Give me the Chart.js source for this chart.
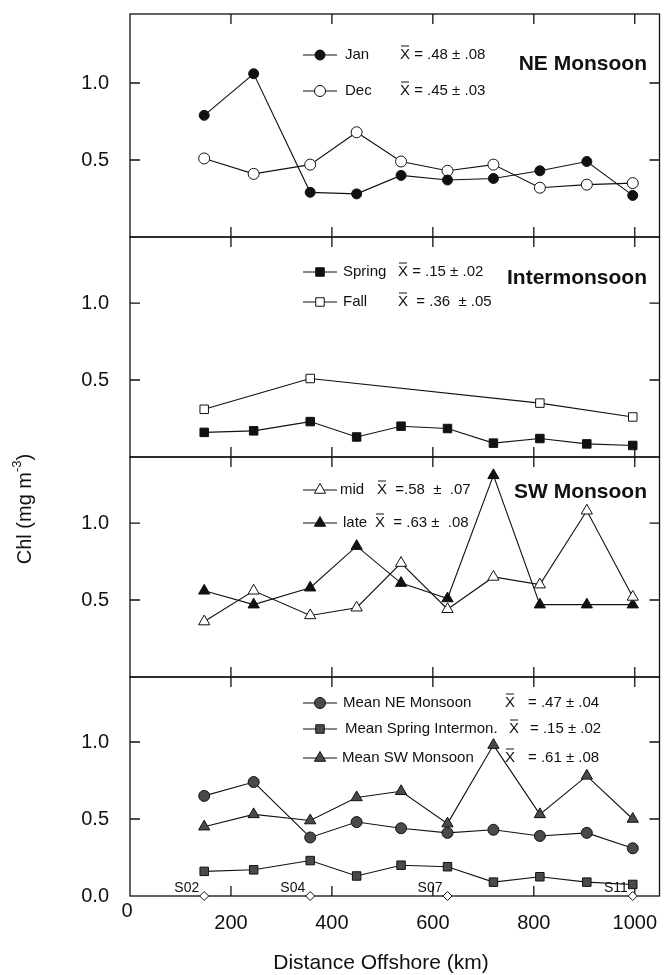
<!DOCTYPE html>
<html>
<head>
<meta charset="utf-8">
<title>Chl vs distance offshore</title>
<script src="https://cdn.jsdelivr.net/npm/chart.js@4.4.1/dist/chart.umd.min.js"></script>
<style>
  html, body { margin: 0; padding: 0; background: #fff; }
  #chl-chart { display: block; }
</style>
</head>
<body>
<canvas id="chl-chart" width="667" height="975"></canvas>
<script>
// distance offshore of the sampled stations (km)
const distances = [147, 245, 357, 449, 537, 629, 720, 812, 905, 996];

// NE monsoon
const janChl = [0.79, 1.06, 0.29, 0.28, 0.40, 0.37, 0.38, 0.43, 0.49, 0.27];
const decChl = [0.51, 0.41, 0.47, 0.68, 0.49, 0.43, 0.47, 0.32, 0.34, 0.35];

// intermonsoon (fall only had 4 stations)
const springChl = [0.16, 0.17, 0.23, 0.13, 0.20, 0.185, 0.09, 0.12, 0.085, 0.075];
const fallDistances = [147, 357, 812, 996];
const fallChl = [0.31, 0.51, 0.35, 0.26];

// SW monsoon
const midChl = [0.36, 0.56, 0.40, 0.45, 0.74, 0.44, 0.65, 0.60, 1.08, 0.52];
const lateChl = [0.56, 0.47, 0.58, 0.85, 0.61, 0.51, 1.31, 0.47, 0.47, 0.47];

// seasonal means
const meanNE = [0.65, 0.74, 0.38, 0.48, 0.44, 0.41, 0.43, 0.39, 0.41, 0.31];
const meanSpring = [0.16, 0.17, 0.23, 0.13, 0.20, 0.19, 0.09, 0.125, 0.09, 0.075];
const meanSW = [0.45, 0.53, 0.49, 0.64, 0.68, 0.47, 0.98, 0.53, 0.78, 0.50];

// station markers on the bottom axis
const stationNames = ['S02', 'S04', 'S07', 'S11'];
const stationDistances = [147, 357, 629, 996];

const xTickValues = [200, 400, 600, 800, 1000];
const yTickValues = [0.5, 1.0];

const INK = '#111';
const GREY = '#4a4a4a';
const FONT = "'Liberation Sans', Arial, Helvetica, sans-serif";

const pts = (xs, ys) => xs.map((x, i) => ({ x: x, y: ys[i] }));

function series(yAxisID, xs, ys, style, fill, radius) {
    return {
        yAxisID: yAxisID,
        data: pts(xs, ys),
        borderColor: INK,
        borderWidth: 1.1,
        pointStyle: style,
        pointRadius: radius,
        pointBackgroundColor: fill,
        pointBorderColor: INK,
        pointBorderWidth: 1,
        tension: 0,
        clip: false,
    };
}

const datasets = [
    series('yNE', distances, janChl, 'circle', INK, 5),
    series('yNE', distances, decChl, 'circle', '#fff', 5.5),
    series('yInter', distances, springChl, 'rect', INK, 6),
    series('yInter', fallDistances, fallChl, 'rect', '#fff', 6),
    series('ySW', distances, midChl, 'triangle', '#fff', 6.5),
    series('ySW', distances, lateChl, 'triangle', INK, 6.5),
    series('yMean', distances, meanNE, 'circle', GREY, 5.5),
    series('yMean', distances, meanSpring, 'rect', GREY, 6),
    series('yMean', distances, meanSW, 'triangle', GREY, 6.5),
    Object.assign(series('yMean', stationDistances, stationNames.map(() => 0), 'rectRot', '#fff', 4.5), { showLine: false }),
];

function panelAxis(weight, max, withZero) {
    return {
        type: 'linear',
        position: 'left',
        stack: 'chl',
        stackWeight: weight,
        min: 0,
        max: max,
        grid: { display: false },
        border: { display: false },
        ticks: {
            padding: 13,
            color: INK,
            font: { family: FONT, size: 20 },
            callback: (v) => v.toFixed(1),
        },
        afterBuildTicks: (s) => {
            const vals = withZero ? [0].concat(yTickValues) : yTickValues;
            s.ticks = vals.map(v => ({ value: v }));
        },
        afterFit: (s) => {
            s.width = 130;
            s.paddingTop = 0;
            s.paddingBottom = 0;
        },
    };
}

const panelIds = ['yNE', 'yInter', 'ySW', 'yMean'];

// legend rows: marker + name + mean value, placed per panel
const legendRows = [
    { y: 55, style: 'circle', fill: INK, r: 5, name: 'Jan', nameX: 345, barX: 400, stat: ' = .48 ± .08' },
    { y: 91, style: 'circle', fill: '#fff', r: 5.5, name: 'Dec', nameX: 345, barX: 400, stat: ' = .45 ± .03' },
    { y: 272, style: 'rect', fill: INK, r: 6, name: 'Spring', nameX: 343, barX: 398, stat: ' = .15 ± .02' },
    { y: 302, style: 'rect', fill: '#fff', r: 6, name: 'Fall', nameX: 343, barX: 398, stat: '  = .36  ± .05' },
    { y: 490, style: 'triangle', fill: '#fff', r: 6.5, name: 'mid', nameX: 340, barX: 377, stat: '  =.58  ±  .07' },
    { y: 523, style: 'triangle', fill: INK, r: 6.5, name: 'late', nameX: 343, barX: 375, stat: '  = .63 ±  .08' },
    { y: 703, style: 'circle', fill: GREY, r: 5.5, name: 'Mean NE Monsoon', nameX: 343, barX: 505, statX: 528, stat: '= .47 ± .04' },
    { y: 729, style: 'rect', fill: GREY, r: 6, name: 'Mean Spring Intermon.', nameX: 345, barX: 509, statX: 530, stat: '= .15 ± .02' },
    { y: 758, style: 'triangle', fill: GREY, r: 6.5, name: 'Mean SW Monsoon', nameX: 342, barX: 505, statX: 528, stat: '= .61 ± .08' },
];

const panelTitles = [
    { text: 'NE Monsoon', y: 64 },
    { text: 'Intermonsoon', y: 278 },
    { text: 'SW Monsoon', y: 492 },
];

function drawMarker(ctx, style, x, y, r, fill) {
    ctx.beginPath();
    if (style === 'circle') {
        ctx.arc(x, y, r, 0, Math.PI * 2);
    } else if (style === 'rect') {
        const h = r * Math.SQRT1_2;
        ctx.rect(x - h, y - h, 2 * h, 2 * h);
    } else {
        ctx.moveTo(x, y - r);
        ctx.lineTo(x + r * 0.866, y + r * 0.5);
        ctx.lineTo(x - r * 0.866, y + r * 0.5);
        ctx.closePath();
    }
    ctx.fillStyle = fill;
    ctx.fill();
    ctx.stroke();
}

const TICK = 10;

const panelFrame = {
    id: 'panelFrame',
    beforeDatasetsDraw(chart) {
        const { ctx, chartArea, scales } = chart;
        const xs = scales.x;
        ctx.save();
        ctx.strokeStyle = INK;
        ctx.lineWidth = 1.3;
        panelIds.forEach(id => {
            const s = scales[id];
            ctx.strokeRect(chartArea.left, s.top, chartArea.right - chartArea.left, s.bottom - s.top);
            ctx.beginPath();
            xTickValues.forEach(v => {
                const px = xs.getPixelForValue(v);
                ctx.moveTo(px, s.top);
                ctx.lineTo(px, s.top + TICK);
                ctx.moveTo(px, s.bottom);
                ctx.lineTo(px, s.bottom - TICK);
            });
            yTickValues.forEach(v => {
                const py = s.getPixelForValue(v);
                ctx.moveTo(chartArea.left, py);
                ctx.lineTo(chartArea.left + TICK, py);
                ctx.moveTo(chartArea.right, py);
                ctx.lineTo(chartArea.right - TICK, py);
            });
            ctx.stroke();
        });
        ctx.restore();
    },
    afterDraw(chart) {
        const { ctx, chartArea, scales } = chart;
        ctx.save();
        ctx.fillStyle = INK;
        ctx.strokeStyle = INK;
        ctx.textBaseline = 'middle';

        // legends
        legendRows.forEach(row => {
            ctx.lineWidth = 1;
            ctx.beginPath();
            ctx.moveTo(303, row.y);
            ctx.lineTo(337, row.y);
            ctx.stroke();
            drawMarker(ctx, row.style, 320, row.y, row.r, row.fill);
            ctx.fillStyle = INK;
            ctx.font = `15px ${FONT}`;
            ctx.textAlign = 'left';
            ctx.fillText(row.name, row.nameX, row.y);
            ctx.fillText('X', row.barX, row.y);
            const xw = ctx.measureText('X').width;
            ctx.beginPath();
            ctx.moveTo(row.barX + 1, row.y - 9);
            ctx.lineTo(row.barX + xw - 1, row.y - 9);
            ctx.stroke();
            ctx.fillText(row.stat, row.statX || row.barX + xw, row.y);
        });

        // panel titles
        ctx.font = `bold 21px ${FONT}`;
        ctx.textAlign = 'right';
        panelTitles.forEach(t => ctx.fillText(t.text, 647, t.y));

        // station labels
        ctx.font = `14px ${FONT}`;
        stationNames.forEach((name, i) => {
            ctx.fillText(name, scales.x.getPixelForValue(stationDistances[i]) - 5, scales.yMean.bottom - 8);
        });

        // lone zero of the distance axis
        ctx.font = `20px ${FONT}`;
        ctx.textAlign = 'center';
        ctx.fillText('0', chartArea.left - 3, 911);

        // axis titles
        ctx.font = `21px ${FONT}`;
        ctx.fillText('Distance Offshore (km)', 381, 963);

        ctx.translate(25, 509);
        ctx.rotate(-Math.PI / 2);
        const main = 'Chl (mg m', sup = '-3', tail = ')';
        ctx.font = `20px ${FONT}`;
        const w1 = ctx.measureText(main).width;
        const w3 = ctx.measureText(tail).width;
        ctx.font = `13px ${FONT}`;
        const w2 = ctx.measureText(sup).width;
        let start = -(w1 + w2 + w3) / 2;
        ctx.textAlign = 'left';
        ctx.font = `20px ${FONT}`;
        ctx.fillText(main, start, 0);
        ctx.font = `13px ${FONT}`;
        ctx.fillText(sup, start + w1, -8);
        ctx.font = `20px ${FONT}`;
        ctx.fillText(tail, start + w1 + w2, 0);
        ctx.restore();
    },
};

// stacked axes are laid out bottom-up, so the lowest panel is listed first
const chart = new Chart(document.getElementById('chl-chart').getContext('2d'), {
    type: 'line',
    data: { datasets: datasets },
    options: {
        responsive: false,
        animation: false,
        layout: { padding: { top: 14, right: 6, left: 0, bottom: 0 } },
        plugins: {
            legend: { display: false },
            tooltip: { enabled: false },
        },
        scales: {
            x: {
                type: 'linear',
                position: 'bottom',
                min: 0,
                max: 1049,
                grid: { display: false },
                border: { display: false },
                ticks: {
                    padding: 7,
                    color: INK,
                    font: { family: FONT, size: 20 },
                    callback: (v) => String(v),
                },
                afterBuildTicks: (s) => { s.ticks = xTickValues.map(v => ({ value: v })); },
                afterFit: (s) => {
                    s.height = 79;
                    s.paddingLeft = 0;
                    s.paddingRight = 0;
                },
            },
            yMean: panelAxis(219, 1.422, true),
            ySW: panelAxis(220, 1.429, false),
            yInter: panelAxis(220, 1.429, false),
            yNE: panelAxis(223, 1.448, false),
        },
    },
    plugins: [panelFrame],
});
</script>
</body>
</html>
